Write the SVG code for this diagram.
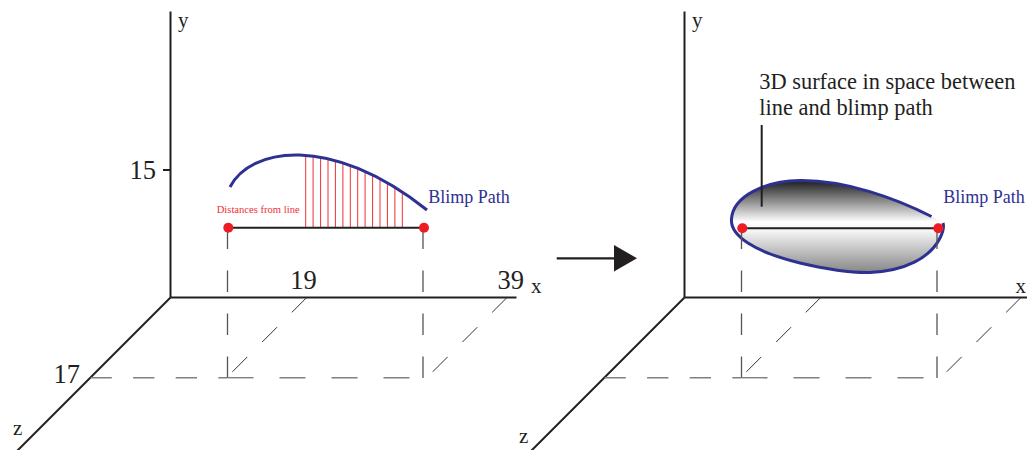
<svg xmlns="http://www.w3.org/2000/svg" width="1027" height="450" viewBox="0 0 1027 450">
<style>
.ax{stroke:#231f20;stroke-width:2;fill:none}
.vd{stroke:#555;stroke-width:1.3;stroke-dasharray:21.5 21.5;fill:none}
.hd1{stroke:#808080;stroke-width:1.4;stroke-dasharray:21.3 21.3;fill:none}
.hd2{stroke:#808080;stroke-width:1.4;stroke-dasharray:26 26;fill:none}
.dd{stroke:#333;stroke-width:1;stroke-dasharray:21 21;fill:none}
.lbl{font-family:"Liberation Serif","Times New Roman",serif;fill:#231f20}
.num{font-size:26.5px}
.let{font-size:21px}
.blue{font-family:"Liberation Serif","Times New Roman",serif;fill:#2e3192;font-size:18px}
.red{stroke:#ee3135;stroke-width:1}
.dot{fill:#ed1c24}
.base{stroke:#231f20;stroke-width:2}
</style>
<defs>
<linearGradient id="surf" x1="0" y1="180" x2="0" y2="273" gradientUnits="userSpaceOnUse">
<stop offset="0" stop-color="#1a1a1a"/>
<stop offset="0.45" stop-color="#ffffff"/>
<stop offset="0.55" stop-color="#f4f4f4"/>
<stop offset="1" stop-color="#858585"/>
</linearGradient>
</defs>

<g id="left-axes">
<line class="ax" x1="170.5" y1="11.5" x2="170.5" y2="297.5"/>
<line class="ax" x1="170.5" y1="297.5" x2="516.5" y2="297.5"/>
<line class="ax" x1="170.5" y1="297.5" x2="16" y2="452"/>
<line class="ax" x1="163" y1="170" x2="170.5" y2="170"/>
<text class="lbl let" x="178" y="27">y</text>
<text class="lbl let" x="531" y="292.7">x</text>
<text class="lbl let" x="13" y="435">z</text>
<text class="lbl num" x="156" y="179" text-anchor="end">15</text>
<text class="lbl num" x="80" y="383.3" text-anchor="end">17</text>
<text class="lbl num" x="303.4" y="289.3" text-anchor="middle">19</text>
<text class="lbl num" x="510.7" y="289.3" text-anchor="middle">39</text>
</g>

<g id="left-guides">
<line class="vd" x1="227.5" y1="378" x2="227.5" y2="228"/>
<line class="vd" x1="423" y1="378" x2="423" y2="228"/>
<line class="hd1" x1="90.5" y1="377.7" x2="227.5" y2="377.7"/>
<line class="hd2" x1="227.5" y1="377.7" x2="423" y2="377.7"/>
<line class="dd" x1="306.7" y1="297.5" x2="226.5" y2="377.7"/>
<line class="dd" x1="507" y1="297.5" x2="426.8" y2="377.7"/>
</g>

<g id="left-distances">
<line class="red" x1="305.7" y1="227.7" x2="305.7" y2="155.4"/>
<line class="red" x1="313.1" y1="227.7" x2="313.1" y2="156.2"/>
<line class="red" x1="320.6" y1="227.7" x2="320.6" y2="157.3"/>
<line class="red" x1="328.0" y1="227.7" x2="328.0" y2="158.9"/>
<line class="red" x1="335.4" y1="227.7" x2="335.4" y2="160.7"/>
<line class="red" x1="342.9" y1="227.7" x2="342.9" y2="162.9"/>
<line class="red" x1="350.3" y1="227.7" x2="350.3" y2="165.5"/>
<line class="red" x1="357.7" y1="227.7" x2="357.7" y2="168.3"/>
<line class="red" x1="365.1" y1="227.7" x2="365.1" y2="171.6"/>
<line class="red" x1="372.6" y1="227.7" x2="372.6" y2="175.0"/>
<line class="red" x1="380.0" y1="227.7" x2="380.0" y2="178.9"/>
<line class="red" x1="387.4" y1="227.7" x2="387.4" y2="183.0"/>
<line class="red" x1="394.9" y1="227.7" x2="394.9" y2="187.5"/>
<line class="red" x1="402.3" y1="227.7" x2="402.3" y2="192.2"/>
<text x="216.7" y="212.7" font-family="Liberation Serif, Times New Roman, serif" font-size="10.6" fill="#ee3135">Distances from line</text>
</g>

<g id="left-blimp-path">
<path d="M230,187 C250,148 330,133 427,210" fill="none" stroke="#2e3192" stroke-width="3"/>
<text class="blue" x="428.3" y="202.7">Blimp Path</text>
</g>

<g id="left-line">
<line class="base" x1="228.3" y1="227.7" x2="424" y2="227.7"/>
<circle class="dot" cx="228.3" cy="227.7" r="5"/>
<circle class="dot" cx="424" cy="227.7" r="5"/>
</g>

<g id="connectors">
<line x1="556.7" y1="258.3" x2="616" y2="258.3" stroke="#231f20" stroke-width="2.3"/>
<polygon points="614,245 637,258.3 614,271.5" fill="#231f20"/>
</g>

<g id="right-axes">
<line class="ax" x1="684.5" y1="11.5" x2="684.5" y2="297.5"/>
<line class="ax" x1="684.5" y1="297.5" x2="1030" y2="297.5"/>
<line class="ax" x1="684.5" y1="297.5" x2="530" y2="452"/>
<text class="lbl let" x="692" y="27">y</text>
<text class="lbl let" x="1015.5" y="293">x</text>
<text class="lbl let" x="519" y="443">z</text>
</g>

<g id="right-surface">
<path d="M931.5,216.5 C895,198 845,180 800,180.5 C765,181 733,196 731.5,219 C730,236 755,252 800,263 C830,270 850,273 870,272.5 C905,271 930,258 940,238 C944,230 944,226 943,223 Z" fill="url(#surf)"/>
<path d="M931.5,216.5 C895,198 845,180 800,180.5 C765,181 733,196 731.5,219 C730,236 755,252 800,263 C830,270 850,273 870,272.5 C905,271 930,258 940,238 C944,230 944,226 943,223" fill="none" stroke="#2e3192" stroke-width="3"/>
<text class="blue" x="943.3" y="202.7">Blimp Path</text>
</g>

<g id="right-guides">
<line class="vd" x1="741.5" y1="378" x2="741.5" y2="228"/>
<line class="vd" x1="937" y1="378" x2="937" y2="228"/>
<line class="hd1" x1="604.5" y1="377.7" x2="741.5" y2="377.7"/>
<line class="hd2" x1="741.5" y1="377.7" x2="937" y2="377.7"/>
<line class="dd" x1="820.7" y1="297.5" x2="740.5" y2="377.7"/>
<line class="dd" x1="1021" y1="297.5" x2="940.8" y2="377.7"/>
</g>

<g id="right-line">
<line class="base" x1="742.3" y1="228.3" x2="938.3" y2="228.3"/>
<circle class="dot" cx="742.3" cy="228.3" r="5"/>
<circle class="dot" cx="938.3" cy="228.3" r="5"/>
</g>

<g id="surface-label">
<line x1="761.7" y1="125" x2="761.7" y2="206.7" stroke="#231f20" stroke-width="2"/>
<text class="lbl" x="759.3" y="89.3" font-size="22.4">3D surface in space between</text>
<text class="lbl" x="759.3" y="115" font-size="22.4">line and blimp path</text>
</g>
</svg>
